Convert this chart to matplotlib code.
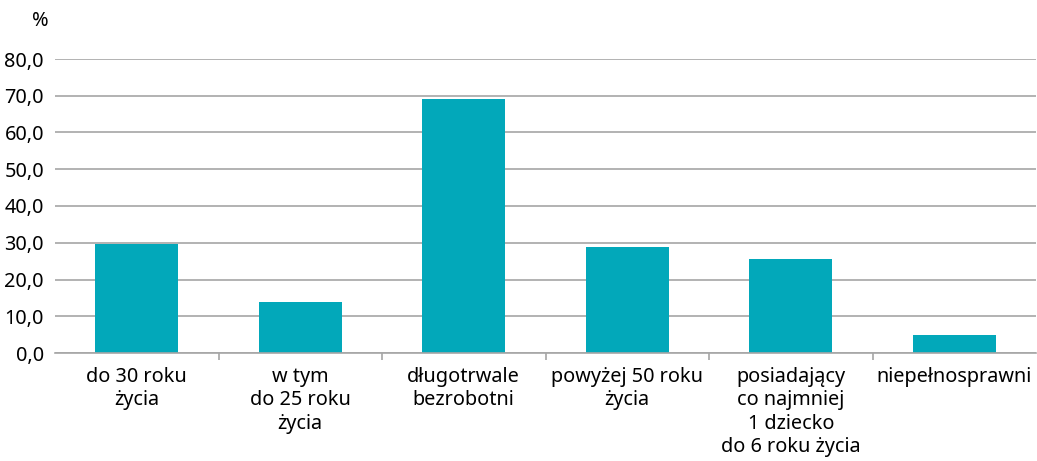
import matplotlib.pyplot as plt
from matplotlib.ticker import FixedLocator

# Data
categories = [
    "do 30 roku\nżycia",
    "w tym\ndo 25 roku\nżycia",
    "długotrwale\nbezrobotni",
    "powyżej 50 roku\nżycia",
    "posiadający\nco najmniej\n1 dziecko\ndo 6 roku życia",
    "niepełnosprawni",
]
values = [29.7, 13.9, 69.2, 28.8, 25.6, 4.9]
y_ticks = [0, 10, 20, 30, 40, 50, 60, 70, 80]

bar_color = "#02A8BA"
grid_color = "#A6A6A6"
fs = 14.3

plt.rcParams['font.family'] = ['Noto Sans', 'DejaVu Sans']

fig = plt.figure(figsize=(10.37, 4.61), dpi=100)
ax = fig.add_axes([55 / 1037, (461 - 353) / 461, 981 / 1037, (353 - 59) / 461])

x = list(range(len(categories)))
ax.bar(x, values, width=0.51, color=bar_color, zorder=3)

ax.set_xlim(-0.5, len(categories) - 0.5)
ax.set_ylim(0, 80)
ax.set_yticks(y_ticks)
ax.set_yticklabels([f"{v:.1f}".replace(".", ",") for v in y_ticks], fontsize=fs)
ax.tick_params(axis="y", length=0, pad=8)
ax.grid(axis="y", color=grid_color, linewidth=1.2, zorder=0)

ax.set_xticks(x)
ax.set_xticklabels(categories, fontsize=fs, linespacing=1.23)
ax.tick_params(axis="x", which="major", length=0, pad=10)
ax.xaxis.set_minor_locator(FixedLocator([i + 0.5 for i in range(len(categories) - 1)]))
ax.tick_params(axis="x", which="minor", length=5, width=1.2, color=grid_color, direction="out")

for side in ["left", "right", "top"]:
    ax.spines[side].set_visible(False)
ax.spines["bottom"].set_color(grid_color)
ax.spines["bottom"].set_linewidth(1.2)
ax.spines["bottom"].set_zorder(4)

fig.text(40 / 1037, 1 - 21 / 461, "%", fontsize=fs, ha="center", va="center")

fig.savefig("out.png", dpi=100)
